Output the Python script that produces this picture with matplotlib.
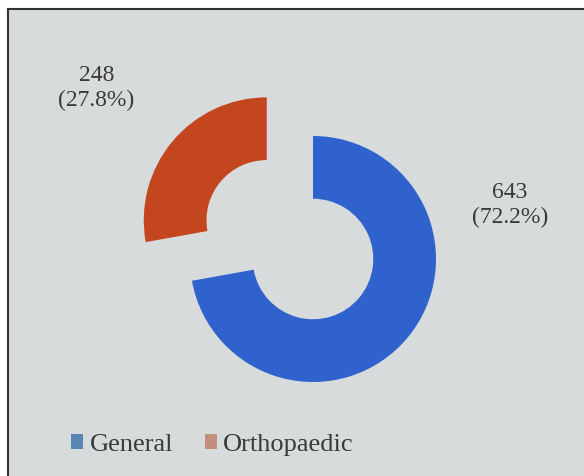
import matplotlib.pyplot as plt
from matplotlib.patches import Patch, Rectangle
from matplotlib.lines import Line2D

categories = ["General", "Orthopaedic"]
counts = [643, 248]
percents = ["72.2%", "27.8%"]
colors = ["#2f62cc", "#c4461f"]
legend_colors = ["#5a86b3", "#c38f7b"]

plt.rcParams['font.family'] = ['Liberation Serif', 'DejaVu Serif']

fig = plt.figure(figsize=(5.84, 4.76), dpi=100)
fig.patch.set_facecolor("white")

# screen photo background with dark frame on top/left
bg = fig.add_axes([0, 0, 1, 1])
bg.set_xlim(0, 584)
bg.set_ylim(476, 0)
bg.axis("off")
bg.add_patch(Rectangle((8, 9), 576, 467, facecolor="#d8dbdb", edgecolor="none"))
bg.add_line(Line2D([8, 584], [9, 9], color="#333333", lw=1.5))
bg.add_line(Line2D([8, 8], [9, 476], color="#333333", lw=1.5))

# donut
cx, cy, R = 313, 259, 123
lim = 1.6
w = 2 * lim * R
ax = fig.add_axes([(cx - w / 2) / 584, 1 - (cy + w / 2) / 476, w / 584, w / 476])
wedges, _ = ax.pie(counts, colors=colors, startangle=90, counterclock=False,
                   explode=[0, 0.49], radius=1,
                   wedgeprops=dict(width=0.51, edgecolor="none"))
ax.set_xlim(-lim, lim)
ax.set_ylim(-lim, lim)
ax.axis("off")
for wd in wedges:
    wd.set_clip_on(False)

label_pos = [(1.60, 0.44), (-1.76, 1.39)]
for (x, y), n, p in zip(label_pos, counts, percents):
    ax.text(x, y, f"{n}\n({p})", ha="center", va="center", fontsize=17,
            color="#3a3a3a", linespacing=1.2, clip_on=False)

handles = [Patch(facecolor=c, edgecolor="none") for c in legend_colors]
fig.legend(handles, categories, loc="center left", bbox_to_anchor=(71 / 584, 1 - 445 / 476),
           ncol=2, frameon=False, fontsize=19, handlelength=0.45, handleheight=0.5,
           handletextpad=0.25, columnspacing=1.2, borderpad=0, borderaxespad=0,
           labelcolor="#3a3a3a")

fig.savefig("out.png", dpi=100)
